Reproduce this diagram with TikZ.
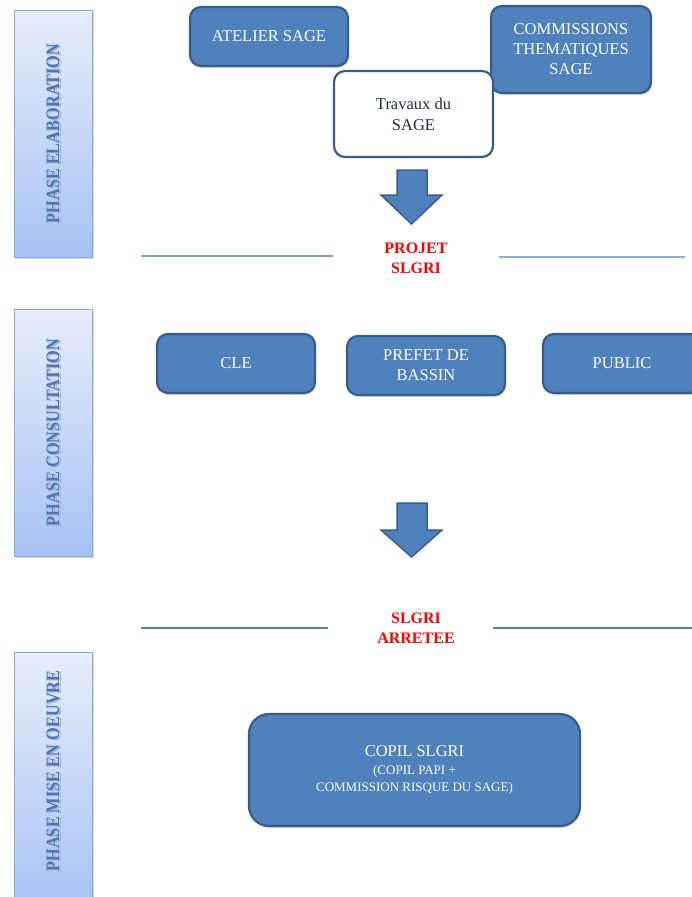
\documentclass[tikz,border=0pt]{standalone}
\usepackage{fontspec}
\setmainfont{Liberation Serif}
\usepackage{graphicx}
\usetikzlibrary{shadows}
\definecolor{boxfill}{HTML}{4F81BD}
\definecolor{boxline}{HTML}{385D8A}
\definecolor{phtop}{HTML}{E6EDFB}
\definecolor{phbot}{HTML}{A6C2F3}
\definecolor{phline}{HTML}{86A9DE}
\definecolor{phtext}{HTML}{5274B0}
\definecolor{phshadow}{HTML}{9DB5DC}
\definecolor{redlbl}{HTML}{FF0000}
\definecolor{travtext}{HTML}{1F2A44}
\tikzset{
  phasebar/.style={draw=phline, line width=1pt, top color=phtop, bottom color=phbot,
    drop shadow={shadow xshift=1.5pt, shadow yshift=-1.5pt, opacity=0.3}},
  phasetext/.style={rotate=90, text=phtext, font=\fontsize{19}{22}\selectfont\bfseries},
  phaseshadow/.style={rotate=90, text=phshadow, font=\fontsize{19}{22}\selectfont\bfseries},
  bluebox/.style={draw=boxline, line width=2.2pt, fill=boxfill, rounded corners=11pt,
    text=white, font=\fontsize{16.5}{20}\selectfont, align=center,
    drop shadow={shadow xshift=1pt, shadow yshift=-2pt, opacity=0.3}},
  whitebox/.style={draw=boxline, line width=2.2pt, fill=white, rounded corners=11pt,
    text=travtext, font=\fontsize{16.5}{21}\selectfont, align=center},
  redlabel/.style={text=redlbl, font=\fontsize{16}{20}\selectfont\bfseries, align=center},
  sepline/.style={draw=boxfill, line width=1.6pt},
  blockarrow/.style={fill=boxfill, draw=boxline, line width=1.5pt, line join=miter}
}
\begin{document}
\begin{tikzpicture}[x=1pt,y=-1pt]
\useasboundingbox (0,0) rectangle (692,897);
\clip (0,0) rectangle (692,897);

% phase bars
\node[phasebar, minimum width=78pt, minimum height=247pt, inner sep=0pt] (p1) at (53,133.5) {};
\node[phaseshadow] (p1s) at (55,134.5) {\scalebox{0.86}[1]{PHASE ELABORATION}};
\node[phasetext] (p1t) at (p1.center) {\scalebox{0.86}[1]{PHASE ELABORATION}};
\node[phasebar, minimum width=78pt, minimum height=247pt, inner sep=0pt] (p2) at (53,432.5) {};
\node[phaseshadow] (p2s) at (55,433.5) {\scalebox{0.86}[1]{PHASE CONSULTATION}};
\node[phasetext] (p2t) at (p2.center) {\scalebox{0.86}[1]{PHASE CONSULTATION}};
\node[phasebar, minimum width=78pt, minimum height=260pt, inner sep=0pt] (p3) at (53,782) {};
\node[phaseshadow] (p3s) at (55,772) {\scalebox{0.86}[1]{PHASE MISE EN OEUVRE}};
\node[phasetext] (p3t) at (53,771) {\scalebox{0.86}[1]{PHASE MISE EN OEUVRE}};

% elaboration
\node[bluebox, minimum width=158pt, minimum height=59pt] (atelier) at (269,36.5) {ATELIER SAGE};
\node[bluebox, minimum width=160pt, minimum height=87pt] (comm) at (571,49.5) {COMMISSIONS\\THEMATIQUES\\SAGE};
\node[whitebox, minimum width=159pt, minimum height=86pt] (trav) at (413.5,114) {Travaux du\\SAGE};

\path[blockarrow] (397,170) -- (427,170) -- (427,195) -- (442,195) -- (411.5,224)
  -- (381,195) -- (397,195) -- cycle;

\node[redlabel] (projet) at (416,258) {PROJET\\SLGRI};
\coordinate (l1a) at (141,256);
\coordinate (l1b) at (333,256);
\coordinate (l1c) at (499,257);
\coordinate (l1d) at (685,257);
\draw[sepline, draw opacity=0.75] (l1a) -- (l1b);
\draw[sepline, draw opacity=0.65] (l1c) -- (l1d);

% consultation
\node[bluebox, minimum width=158pt, minimum height=59pt] (cle) at (236,363.5) {CLE};
\node[bluebox, minimum width=158pt, minimum height=59pt] (prefet) at (426,365.5) {PREFET DE\\BASSIN};
\node[bluebox, minimum width=158pt, minimum height=59pt] (public) at (622,363.5) {PUBLIC};

\path[blockarrow] (397,503) -- (427,503) -- (427,530) -- (442,530) -- (411.5,557)
  -- (381,530) -- (397,530) -- cycle;

\node[redlabel] (arretee) at (416,628) {SLGRI\\ARRETEE};
\coordinate (l2a) at (141,628);
\coordinate (l2b) at (328,628);
\coordinate (l2c) at (493,628);
\coordinate (l2d) at (692,628);
\draw[sepline, line width=2pt] (l2a) -- (l2b);
\draw[sepline, line width=2pt] (l2c) -- (l2d);

% mise en oeuvre
\node[bluebox, minimum width=331pt, minimum height=112pt, rounded corners=20pt] (copil) at (414.5,770)
  {COPIL SLGRI\\[-2pt]{\fontsize{13}{16.5}\selectfont (COPIL PAPI +}\\[-3pt]{\fontsize{13}{16.5}\selectfont COMMISSION RISQUE DU SAGE)}};
\end{tikzpicture}
\end{document}
